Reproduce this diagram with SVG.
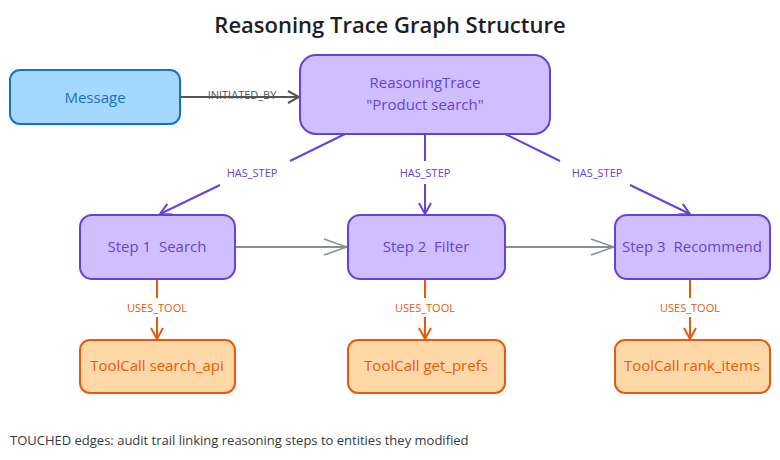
<svg xmlns="http://www.w3.org/2000/svg" width="780" height="460" viewBox="0 0 780 460">
<style>
text{font-family:"Open Sans","Liberation Sans",sans-serif;white-space:pre}
.t{font-size:15px;text-anchor:middle;dominant-baseline:central}
.l{font-size:11px;text-anchor:middle;dominant-baseline:central}
.p rect{fill:#d0bfff;stroke:#6741d9;stroke-width:2}
.p text{fill:#6741d9}
.o rect{fill:#ffd8a8;stroke:#e8590c;stroke-width:2}
.o text{fill:#e8590c}
.ep{stroke:#6741d9;stroke-width:2;fill:none}
.eo{stroke:#e8590c;stroke-width:2;fill:none}
.eg{stroke:#868e96;stroke-width:2;fill:none}
</style>
<defs>
<marker id="ap" markerWidth="14" markerHeight="14" refX="12" refY="7" orient="auto" markerUnits="userSpaceOnUse"><path d="M1,1 L12,7 L1,13" fill="none" stroke="#6741d9" stroke-width="2"/></marker>
<marker id="ao" markerWidth="14" markerHeight="14" refX="12" refY="7" orient="auto" markerUnits="userSpaceOnUse"><path d="M1,1 L12,7 L1,13" fill="none" stroke="#e8590c" stroke-width="2"/></marker>
<marker id="ag" markerWidth="26" markerHeight="20" refX="24" refY="10" orient="auto" markerUnits="userSpaceOnUse"><path d="M1,2 L24,10 L1,18" fill="none" stroke="#868e96" stroke-width="1.5"/></marker>
<marker id="ad" markerWidth="14" markerHeight="14" refX="12" refY="7" orient="auto" markerUnits="userSpaceOnUse"><path d="M1,1 L12,7 L1,13" fill="none" stroke="#555" stroke-width="2"/></marker>
</defs>
<text x="390" y="24" text-anchor="middle" dominant-baseline="central" font-size="22" font-weight="600" fill="#1e1e1e">Reasoning Trace Graph Structure</text>
<g id="connectors">
<line x1="180" y1="97" x2="299" y2="97" stroke="#555" stroke-width="2" marker-end="url(#ad)"/>
<text x="242" y="94" class="l" fill="#555" font-size="12">INITIATED_BY</text>
<path class="ep" d="M345,134 L290,161 M220,185 L160,214" marker-end="url(#ap)"/>
<text x="252" y="172" class="l" fill="#6741d9">HAS_STEP</text>
<path class="ep" d="M425,134 L425,161 M425,184 L425,214" marker-end="url(#ap)"/>
<text x="425" y="172" class="l" fill="#6741d9">HAS_STEP</text>
<path class="ep" d="M505,134 L560,161 M630,185 L690,214" marker-end="url(#ap)"/>
<text x="597" y="172" class="l" fill="#6741d9">HAS_STEP</text>
<line class="eg" x1="235" y1="247" x2="347" y2="247" marker-end="url(#ag)"/>
<line class="eg" x1="505" y1="247" x2="614" y2="247" marker-end="url(#ag)"/>
<path class="eo" d="M157,279 L157,298 M157,317 L157,339" marker-end="url(#ao)"/>
<text x="157" y="307" class="l" fill="#e8590c">USES_TOOL</text>
<path class="eo" d="M425,279 L425,298 M425,317 L425,339" marker-end="url(#ao)"/>
<text x="425" y="307" class="l" fill="#e8590c">USES_TOOL</text>
<path class="eo" d="M690,279 L690,298 M690,317 L690,339" marker-end="url(#ao)"/>
<text x="690" y="307" class="l" fill="#e8590c">USES_TOOL</text>
</g>
<g id="message"><rect x="10" y="70" width="170" height="54" rx="10" fill="#a5d8ff" stroke="#1971c2" stroke-width="2"/><text x="95" y="97" class="t" fill="#1971c2">Message</text></g>
<g id="trace" class="p"><rect x="300" y="55" width="250" height="79" rx="16"/><text x="425" y="82" class="t">ReasoningTrace</text><text x="425" y="104" class="t">"Product search"</text></g>
<g id="step1" class="p"><rect x="80" y="215" width="155" height="64" rx="12"/><text x="157" y="246" class="t">Step 1  Search</text></g>
<g id="step2" class="p"><rect x="348" y="215" width="157" height="64" rx="12"/><text x="426" y="246" class="t">Step 2  Filter</text></g>
<g id="step3" class="p"><rect x="615" y="215" width="155" height="64" rx="12"/><text x="692" y="246" class="t" font-size="14.5">Step 3  Recommend</text></g>
<g id="tool1" class="o"><rect x="80" y="340" width="155" height="53" rx="10"/><text x="157" y="365" class="t" font-size="14">ToolCall search_api</text></g>
<g id="tool2" class="o"><rect x="348" y="340" width="157" height="53" rx="10"/><text x="426" y="365" class="t" font-size="14">ToolCall get_prefs</text></g>
<g id="tool3" class="o"><rect x="615" y="340" width="155" height="53" rx="10"/><text x="692" y="365" class="t" font-size="14">ToolCall rank_items</text></g>
<text x="10" y="440" font-size="13" fill="#343a40" dominant-baseline="central">TOUCHED edges: audit trail linking reasoning steps to entities they modified</text>
</svg>
